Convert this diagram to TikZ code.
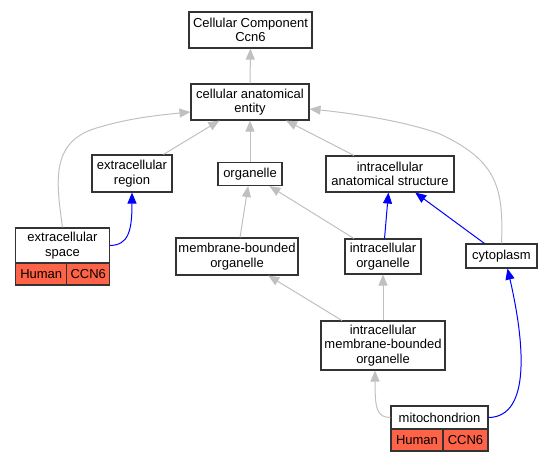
\documentclass[tikz,border=0pt]{standalone}
\usepackage{fontspec}
\setmainfont{Liberation Sans}
\usetikzlibrary{arrows.meta}
\definecolor{isagray}{HTML}{C0C0C0}
\definecolor{boxline}{HTML}{333333}
\definecolor{hit}{HTML}{FF6347}
\begin{document}
\begin{tikzpicture}[x=1pt, y=-1pt,
  term/.style={draw=boxline, line width=1.1pt, fill=white, inner sep=0pt, align=center,
    font=\fontsize{13}{14.5}\selectfont},
  cell/.style={term, fill=hit, minimum height=22pt},
  isa/.style={draw=isagray, line width=1pt, -{Triangle[length=11pt, width=9pt]}},
  partof/.style={draw=blue, line width=1pt, -{Triangle[length=11pt, width=9pt]}}]
  \useasboundingbox (0,0) rectangle (553,461);
  \node[term, minimum width=123pt, minimum height=36pt] (ccomp) at (250.5,30) {Cellular Component\\Ccn6};
  \node[term, minimum width=118pt, minimum height=36pt] (cae) at (250,102) {cellular anatomical\\entity};
  \node[term, minimum width=80pt, minimum height=37pt] (exreg) at (132,173.5) {extracellular\\region};
  \node[term, minimum width=64pt, minimum height=23pt] (organelle) at (250,174) {organelle};
  \node[term, minimum width=128pt, minimum height=36pt] (ias) at (390,174) {intracellular\\anatomical structure};
  \node[term, minimum width=94pt, minimum height=35pt] (exspace) at (62.5,245.5) {extracellular\\space};
  \node[cell, minimum width=51pt] (exspaceHuman) at (41.25,274) {Human};
  \node[cell, minimum width=43pt] (exspaceGene) at (88.25,274) {CCN6};
  \node[term, minimum width=122pt, minimum height=37pt] (mbo) at (237,256.5) {membrane-bounded\\organelle};
  \node[term, minimum width=76pt, minimum height=35pt] (io) at (383,256.5) {intracellular\\organelle};
  \node[term, minimum width=71pt, minimum height=24pt] (cyto) at (501.5,256) {cytoplasm};
  \node[term, minimum width=124pt, minimum height=49pt] (imbo) at (383,345.5) {intracellular\\membrane-bounded\\organelle};
  \node[term, minimum width=97pt, minimum height=23pt] (mito) at (439.5,417.5) {mitochondrion};
  \node[cell, minimum width=52pt] (mitoHuman) at (417,440) {Human};
  \node[cell, minimum width=45pt] (mitoGene) at (465.5,440) {CCN6};
  \draw[isa] (cae) -- (ccomp);
  \draw[isa] (exreg) -- (cae);
  \draw[isa] (organelle) -- (cae);
  \draw[isa] (ias) -- (cae);
  \draw[isa] (exspace.north) .. controls (56,180) and (50,140) .. (100,127)
    .. controls (130,118) and (160,115) .. ([yshift=-10pt]cae.west);
  \draw[isa] (cyto.north) .. controls (504,185) and (495,160) .. (440,134)
    .. controls (405,121) and (350,113) .. ([yshift=-7pt]cae.east);
  \draw[isa] (mbo) -- (organelle);
  \draw[isa] (io) -- (organelle);
  \draw[isa] (imbo) -- (mbo);
  \draw[isa] (imbo) -- (io);
  \draw[isa] (mito.west) .. controls (377,417) and (375,410) .. ([xshift=-8pt]imbo.south);
  \draw[partof] (exspace.east) .. controls (128,245) and (132,232) .. (exreg.south);
  \draw[partof] (io) -- (ias);
  \draw[partof] (cyto) -- (ias);
  \draw[partof] (mito.east) .. controls (532,417) and (524,340) .. ([xshift=6pt]cyto.south);
\end{tikzpicture}
\end{document}
